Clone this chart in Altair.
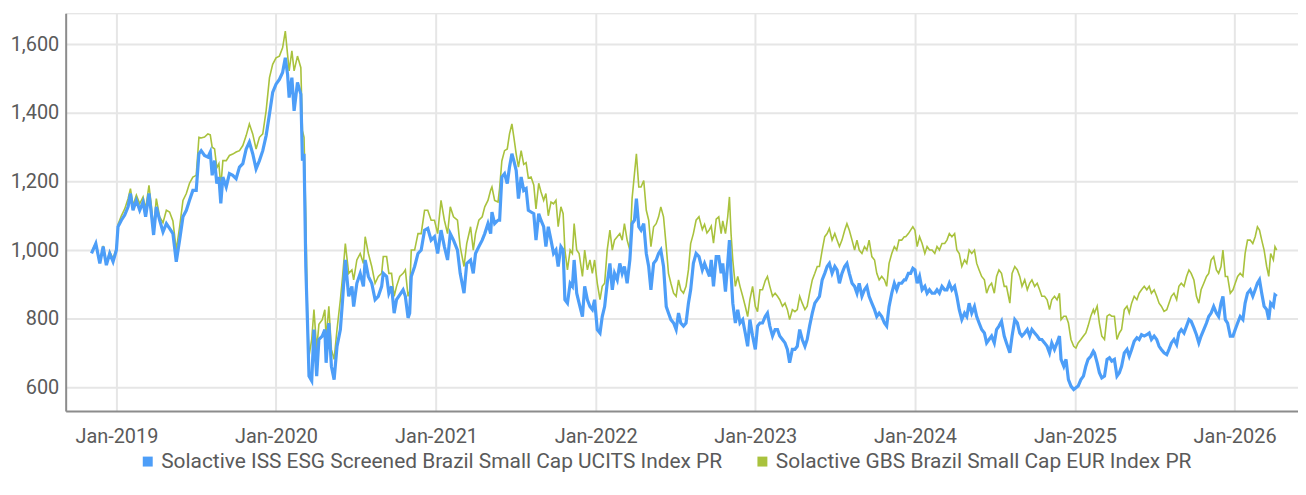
import math
import pandas as pd
import altair as alt

BLUE_NAME = "Solactive ISS ESG Screened Brazil Small Cap UCITS Index PR"
GREEN_NAME = "Solactive GBS Brazil Small Cap EUR Index PR"

# dates, as decimal years
YEARS = [
    2018.844, 2018.871, 2018.896, 2018.917, 2018.937, 2018.958, 2018.979, 2019.000, 2019.010, 2019.031,
    2019.052, 2019.073, 2019.088, 2019.104, 2019.125, 2019.146, 2019.167, 2019.183, 2019.204, 2019.219,
    2019.233, 2019.250, 2019.271, 2019.292, 2019.313, 2019.333, 2019.354, 2019.375, 2019.396, 2019.417,
    2019.438, 2019.458, 2019.479, 2019.500, 2019.517, 2019.531, 2019.552, 2019.573, 2019.588, 2019.600,
    2019.615, 2019.629, 2019.642, 2019.654, 2019.667, 2019.688, 2019.708, 2019.729, 2019.750, 2019.771,
    2019.792, 2019.813, 2019.833, 2019.854, 2019.875, 2019.896, 2019.917, 2019.938,
    2019.959, 2019.979, 2020.000, 2020.021, 2020.041, 2020.058, 2020.072, 2020.082, 2020.099, 2020.113,
    2020.134, 2020.155, 2020.165, 2020.175, 2020.186, 2020.196, 2020.206, 2020.223, 2020.237, 2020.254,
    2020.268, 2020.289, 2020.305, 2020.313, 2020.330, 2020.346, 2020.363, 2020.381, 2020.402, 2020.416,
    2020.433, 2020.454, 2020.474, 2020.485, 2020.505, 2020.526, 2020.546, 2020.557, 2020.577, 2020.598,
    2020.619, 2020.639, 2020.660, 2020.670, 2020.691, 2020.705, 2020.722, 2020.738, 2020.753, 2020.773,
    2020.794, 2020.808, 2020.825, 2020.835, 2020.845, 2020.866, 2020.887, 2020.907, 2020.928, 2020.948,
    2020.969, 2020.990, 2021.010, 2021.031, 2021.052, 2021.072, 2021.089, 2021.109, 2021.134, 2021.151,
    2021.175, 2021.192, 2021.216, 2021.233, 2021.247, 2021.268, 2021.289,
    2021.305, 2021.325, 2021.342, 2021.350, 2021.367, 2021.388, 2021.398, 2021.412, 2021.429, 2021.446,
    2021.460, 2021.475, 2021.487, 2021.502, 2021.516, 2021.533, 2021.549, 2021.564, 2021.578, 2021.595,
    2021.612, 2021.626, 2021.643, 2021.657, 2021.674, 2021.688, 2021.703, 2021.720, 2021.736, 2021.751,
    2021.765, 2021.782, 2021.796, 2021.807, 2021.823, 2021.840, 2021.854, 2021.865, 2021.881, 2021.896,
    2021.917, 2021.931, 2021.948, 2021.964, 2021.979, 2021.993, 2022.010, 2022.027, 2022.041, 2022.056,
    2022.072, 2022.089, 2022.104, 2022.118, 2022.135, 2022.151, 2022.166, 2022.180, 2022.197, 2022.214,
    2022.228, 2022.243, 2022.255, 2022.270, 2022.284, 2022.301, 2022.317, 2022.332, 2022.346, 2022.363,
    2022.379, 2022.394, 2022.408, 2022.425, 2022.442, 2022.456, 2022.471, 2022.488, 2022.504, 2022.519,
    2022.533, 2022.550, 2022.566, 2022.581, 2022.595, 2022.612, 2022.629,
    2022.647, 2022.668, 2022.682, 2022.697, 2022.713, 2022.724, 2022.738, 2022.755, 2022.771, 2022.786,
    2022.796, 2022.813, 2022.827, 2022.838, 2022.848, 2022.859, 2022.875, 2022.890, 2022.904, 2022.921,
    2022.937, 2022.952, 2022.966, 2022.983, 2023.000, 2023.014, 2023.029, 2023.045, 2023.062, 2023.076,
    2023.091, 2023.108, 2023.124, 2023.139, 2023.153, 2023.170, 2023.186, 2023.201, 2023.215, 2023.232,
    2023.248, 2023.263, 2023.278, 2023.294, 2023.311, 2023.325, 2023.340, 2023.357, 2023.373, 2023.388,
    2023.402, 2023.419, 2023.435, 2023.450, 2023.464, 2023.481, 2023.498, 2023.512, 2023.527, 2023.543,
    2023.560, 2023.574, 2023.589, 2023.606, 2023.622, 2023.637, 2023.651, 2023.668, 2023.684, 2023.699,
    2023.713, 2023.730, 2023.747, 2023.761, 2023.776, 2023.792, 2023.809, 2023.823, 2023.838, 2023.855,
    2023.871, 2023.886, 2023.900, 2023.917, 2023.933,
    2023.942, 2023.959, 2023.973, 2023.987, 2024.000, 2024.014, 2024.029, 2024.045, 2024.062, 2024.076,
    2024.091, 2024.107, 2024.124, 2024.138, 2024.153, 2024.169, 2024.186, 2024.200, 2024.215, 2024.231,
    2024.248, 2024.262, 2024.277, 2024.293, 2024.310, 2024.324, 2024.339, 2024.355, 2024.372, 2024.386,
    2024.401, 2024.417, 2024.434, 2024.448, 2024.463, 2024.479, 2024.496, 2024.510, 2024.525, 2024.541,
    2024.558, 2024.572, 2024.593, 2024.607, 2024.624, 2024.640, 2024.655, 2024.669, 2024.686, 2024.702,
    2024.717, 2024.731, 2024.748, 2024.764, 2024.779, 2024.793, 2024.810, 2024.826, 2024.841, 2024.855,
    2024.872, 2024.888, 2024.903, 2024.913, 2024.930, 2024.944, 2024.959, 2024.975, 2024.992, 2025.006,
    2025.020, 2025.037, 2025.053, 2025.068, 2025.082, 2025.099, 2025.115,
    2025.122, 2025.139, 2025.153, 2025.168, 2025.185, 2025.201, 2025.216, 2025.230, 2025.247, 2025.263,
    2025.278, 2025.292, 2025.309, 2025.326, 2025.340, 2025.355, 2025.371, 2025.388, 2025.402, 2025.417,
    2025.434, 2025.450, 2025.465, 2025.479, 2025.496, 2025.512, 2025.527, 2025.541, 2025.558, 2025.575,
    2025.589, 2025.604, 2025.620, 2025.637, 2025.651, 2025.666, 2025.683, 2025.699, 2025.714, 2025.728,
    2025.745, 2025.761, 2025.776, 2025.790, 2025.807, 2025.824, 2025.838, 2025.853, 2025.869, 2025.886,
    2025.900, 2025.915, 2025.927, 2025.942, 2025.956, 2025.973, 2025.990, 2026.004, 2026.019, 2026.035,
    2026.052, 2026.066, 2026.081, 2026.098, 2026.114, 2026.129, 2026.143, 2026.156, 2026.170, 2026.185,
    2026.201, 2026.214, 2026.226, 2026.243, 2026.253, 2026.264,
]

BLUE = [
    990, 1019, 961, 1010, 956, 990, 966, 1000, 1068, 1087,
    1102, 1126, 1165, 1116, 1145, 1116, 1140, 1097, 1165, 1106,
    1044, 1126, 1087, 1053, 1077, 1063, 1048, 966, 1029, 1097,
    1116, 1145, 1174, 1174, 1281, 1290, 1276, 1271, 1286, 1218,
    1261, 1194, 1213, 1136, 1213, 1184, 1223, 1218, 1208, 1242,
    1252, 1295, 1315, 1281, 1237, 1261, 1290, 1334,
    1397, 1460, 1484, 1498, 1518, 1561, 1513, 1445, 1503, 1406,
    1489, 1455, 1261, 1281, 952, 797, 632, 618, 768, 632,
    739, 749, 768, 671, 787, 661, 622, 719, 768, 855,
    971, 865, 894, 835, 903, 932, 894, 971, 923, 903,
    855, 865, 894, 932, 923, 874, 894, 816, 855, 869,
    884, 865, 802, 816, 923, 952, 990, 1000, 1058, 1063,
    1029, 1039, 990, 1058, 1010, 971, 1048, 1029, 1000, 932,
    874, 961, 971, 932, 990, 1010, 1029,
    1048, 1077, 1048, 1111, 1077, 1087, 1087, 1213, 1223, 1194,
    1242, 1281, 1261, 1232, 1150, 1213, 1174, 1179, 1116, 1111,
    1106, 1029, 1106, 1087, 1068, 1010, 1068, 1029, 990, 1000,
    952, 1010, 1000, 855, 845, 903, 894, 971, 874, 845,
    806, 894, 855, 835, 826, 855, 768, 758, 806, 835,
    903, 961, 884, 932, 913, 961, 932, 952, 903, 971,
    1077, 1087, 1150, 1068, 1058, 1077, 990, 952, 884, 961,
    971, 990, 1000, 952, 835, 816, 797, 787, 768, 816,
    787, 778, 787, 845, 884, 961, 990,
    981, 942, 961, 942, 923, 971, 894, 981, 981, 932,
    961, 879, 961, 1029, 932, 845, 787, 826, 787, 797,
    758, 719, 797, 749, 710, 778, 787, 787, 806, 816,
    778, 749, 768, 768, 749, 739, 729, 710, 671, 710,
    710, 719, 768, 739, 719, 739, 778, 816, 845, 855,
    865, 913, 932, 952, 961, 932, 952, 942, 903, 932,
    952, 961, 932, 903, 894, 874, 903, 865, 884, 894,
    865, 845, 826, 806, 816, 806, 787, 778, 835, 874,
    903, 884, 903, 903, 913,
    913, 932, 932, 947, 942, 903, 923, 884, 894, 874,
    884, 874, 874, 884, 874, 894, 884, 884, 903, 884,
    894, 865, 826, 797, 816, 806, 845, 816, 835, 806,
    787, 768, 758, 729, 739, 749, 729, 768, 778, 792,
    749, 729, 700, 749, 797, 787, 758, 749, 758, 768,
    749, 768, 758, 749, 739, 739, 729, 719, 700, 729,
    710, 729, 749, 681, 661, 681, 622, 603, 593, 598,
    603, 622, 632, 661, 681, 690, 705,
    700, 671, 642, 627, 632, 681, 686, 676, 681, 632,
    642, 661, 700, 710, 690, 710, 734, 744, 739, 753,
    749, 753, 758, 739, 749, 739, 719, 710, 700, 695,
    710, 729, 739, 724, 758, 768, 758, 778, 797, 792,
    773, 753, 729, 749, 768, 787, 806, 816, 835, 816,
    806, 845, 865, 797, 787, 749, 749, 768, 787, 806,
    797, 845, 874, 884, 865, 884, 903, 913, 874, 836,
    826, 797, 845, 836, 869, 865,
]

GREEN = [
    995, 1020, 965, 1012, 960, 995, 975, 1005, 1075, 1100,
    1120, 1150, 1179, 1130, 1160, 1135, 1155, 1120, 1189, 1130,
    1060, 1150, 1097, 1080, 1116, 1111, 1085, 1000, 1068, 1145,
    1165, 1195, 1213, 1218, 1329, 1327, 1330, 1339, 1336, 1300,
    1295, 1240, 1252, 1184, 1261, 1261, 1276, 1280, 1286, 1290,
    1305, 1334, 1368, 1339, 1295, 1329, 1339, 1407,
    1503, 1542, 1561, 1566, 1590, 1639, 1571, 1523, 1581, 1523,
    1566, 1532, 1348, 1329, 1097, 826, 690, 739, 826, 710,
    783, 797, 826, 739, 836, 710, 681, 768, 855, 923,
    1019, 932, 942, 913, 971, 990, 961, 1039, 990, 952,
    903, 923, 932, 981, 981, 932, 932, 865, 894, 923,
    932, 942, 865, 880, 1000, 1000, 1048, 1048, 1116, 1116,
    1087, 1087, 1048, 1145, 1087, 1048, 1126, 1097, 1087, 1010,
    952, 1019, 1068, 1000, 1048, 1087, 1097,
    1126, 1145, 1175, 1184, 1145, 1140, 1180, 1260, 1290, 1295,
    1339, 1368, 1330, 1280, 1242, 1290, 1250, 1255, 1210, 1213,
    1190, 1120, 1195, 1170, 1145, 1165, 1100, 1140, 1135, 1145,
    1068, 1126, 1106, 1000, 942, 1000, 990, 1077, 1000, 990,
    923, 1000, 942, 971, 932, 971, 903, 855, 894, 903,
    1000, 1058, 1000, 1029, 1039, 1048, 1029, 1077, 1029, 1000,
    1150, 1223, 1281, 1184, 1184, 1203, 1116, 1087, 1010, 1068,
    1077, 1097, 1126, 1097, 1010, 932, 903, 874, 865, 913,
    884, 874, 894, 942, 1019, 1048, 1087,
    1097, 1060, 1075, 1050, 1060, 1070, 1020, 1090, 1097, 1048,
    1085, 1048, 1097, 1155, 1048, 970, 894, 923, 894, 865,
    836, 806, 855, 894, 836, 820, 884, 884, 910, 923,
    894, 865, 874, 865, 855, 836, 845, 826, 797, 826,
    820, 826, 865, 845, 826, 836, 874, 913, 932, 952,
    952, 1000, 1039, 1048, 1063, 1029, 1048, 1029, 1010, 1029,
    1058, 1077, 1058, 1029, 1000, 1029, 1000, 990, 1010, 1000,
    1029, 981, 971, 932, 913, 923, 913, 894, 961, 990,
    1010, 1000, 1029, 1029, 1039,
    1039, 1048, 1058, 1068, 1058, 1010, 1039, 1019, 990, 1010,
    1000, 1000, 990, 1010, 1000, 1019, 1019, 1029, 1048, 1039,
    1048, 1000, 990, 952, 971, 961, 1000, 990, 1000, 961,
    942, 923, 913, 874, 894, 903, 874, 923, 942, 932,
    894, 894, 845, 932, 952, 942, 923, 894, 913, 884,
    903, 913, 894, 903, 884, 865, 865, 855, 826, 855,
    865, 855, 874, 797, 807, 807, 787, 739, 719, 714,
    729, 739, 749, 758, 778, 807, 826,
    816, 836, 787, 749, 739, 807, 812, 807, 807, 739,
    758, 768, 826, 836, 816, 845, 865, 855, 874, 884,
    894, 884, 894, 874, 884, 865, 845, 836, 821, 826,
    845, 865, 874, 855, 894, 903, 894, 923, 942, 932,
    913, 865, 845, 884, 903, 923, 932, 971, 981, 942,
    932, 952, 1000, 923, 923, 874, 884, 903, 923, 932,
    923, 990, 1029, 1029, 1019, 1039, 1068, 1058, 1029, 1000,
    952, 923, 990, 971, 1010, 1000,
]

Y_TICKS = [600, 800, 1000, 1200, 1400, 1600]
X_TICK_YEARS = [2019, 2020, 2021, 2022, 2023, 2024, 2025, 2026]

BLUE_COLOR = "#4d9ef8"
GREEN_COLOR = "#a9c23d"
TEXT_COLOR = "#5a5a5a"
FONT = "Roboto"


def to_stamp(y):
    yr = int(math.floor(y))
    start = pd.Timestamp(yr, 1, 1)
    end = pd.Timestamp(yr + 1, 1, 1)
    return (start + (end - start) * (y - yr)).strftime("%Y-%m-%dT%H:%M")


dates = [to_stamp(y) for y in YEARS]
df = pd.concat([
    pd.DataFrame({"date": dates, "value": GREEN, "series": GREEN_NAME}),
    pd.DataFrame({"date": dates, "value": BLUE, "series": BLUE_NAME}),
])

color_scale = alt.Scale(domain=[BLUE_NAME, GREEN_NAME], range=[BLUE_COLOR, GREEN_COLOR])

x_enc = alt.X(
    "date:T",
    title=None,
    scale=alt.Scale(domain=[alt.DateTime(year=2018, month=9, date=7),
                            alt.DateTime(year=2026, month=5, date=26)], nice=False),
    axis=alt.Axis(
        values=[alt.DateTime(year=y, month=1, date=1) for y in X_TICK_YEARS],
        format="%b-%Y",
        grid=True, gridColor="#e6e6e6", gridWidth=2,
        ticks=False, tickSize=0,
        domainColor="#8c8c8c", domainWidth=2,
        labelFont=FONT, labelFontSize=20, labelColor=TEXT_COLOR,
        labelPadding=16, labelFlush=False,
    ),
)
y_enc = alt.Y(
    "value:Q",
    title=None,
    scale=alt.Scale(domain=[530, 1691], nice=False, zero=False),
    axis=alt.Axis(
        values=Y_TICKS, format=",.0f",
        grid=True, gridColor="#e6e6e6", gridWidth=2,
        ticks=False, tickSize=0,
        domainColor="#8c8c8c", domainWidth=2,
        labelFont=FONT, labelFontSize=20, labelColor=TEXT_COLOR,
        labelPadding=7,
    ),
)
color_enc = alt.Color(
    "series:N",
    scale=color_scale,
    title=None,
    legend=alt.Legend(
        orient="none", direction="horizontal", legendX=72, legendY=440,
        symbolType="square", symbolSize=4, symbolStrokeWidth=8,
        labelFont=FONT, labelFontSize=21, labelColor=TEXT_COLOR,
        labelLimit=0, labelOffset=3, columnPadding=22,
    ),
)

green_layer = alt.Chart(df[df["series"] == GREEN_NAME]).mark_line(
    strokeWidth=1.6, interpolate="linear"
).encode(x=x_enc, y=y_enc, color=color_enc)

blue_layer = alt.Chart(df[df["series"] == BLUE_NAME]).mark_line(
    strokeWidth=3.2, interpolate="linear"
).encode(x=x_enc, y=y_enc, color=color_enc)

chart = alt.layer(green_layer, blue_layer).properties(
    width=1239, height=400,
    autosize=alt.AutoSizeParams(type="none"),
    padding={"left": 58, "top": 4, "right": 0, "bottom": 70},
).configure_view(stroke=None).configure(background="white")

chart.save("out.html", embed_options={"renderer": "svg", "actions": False})
